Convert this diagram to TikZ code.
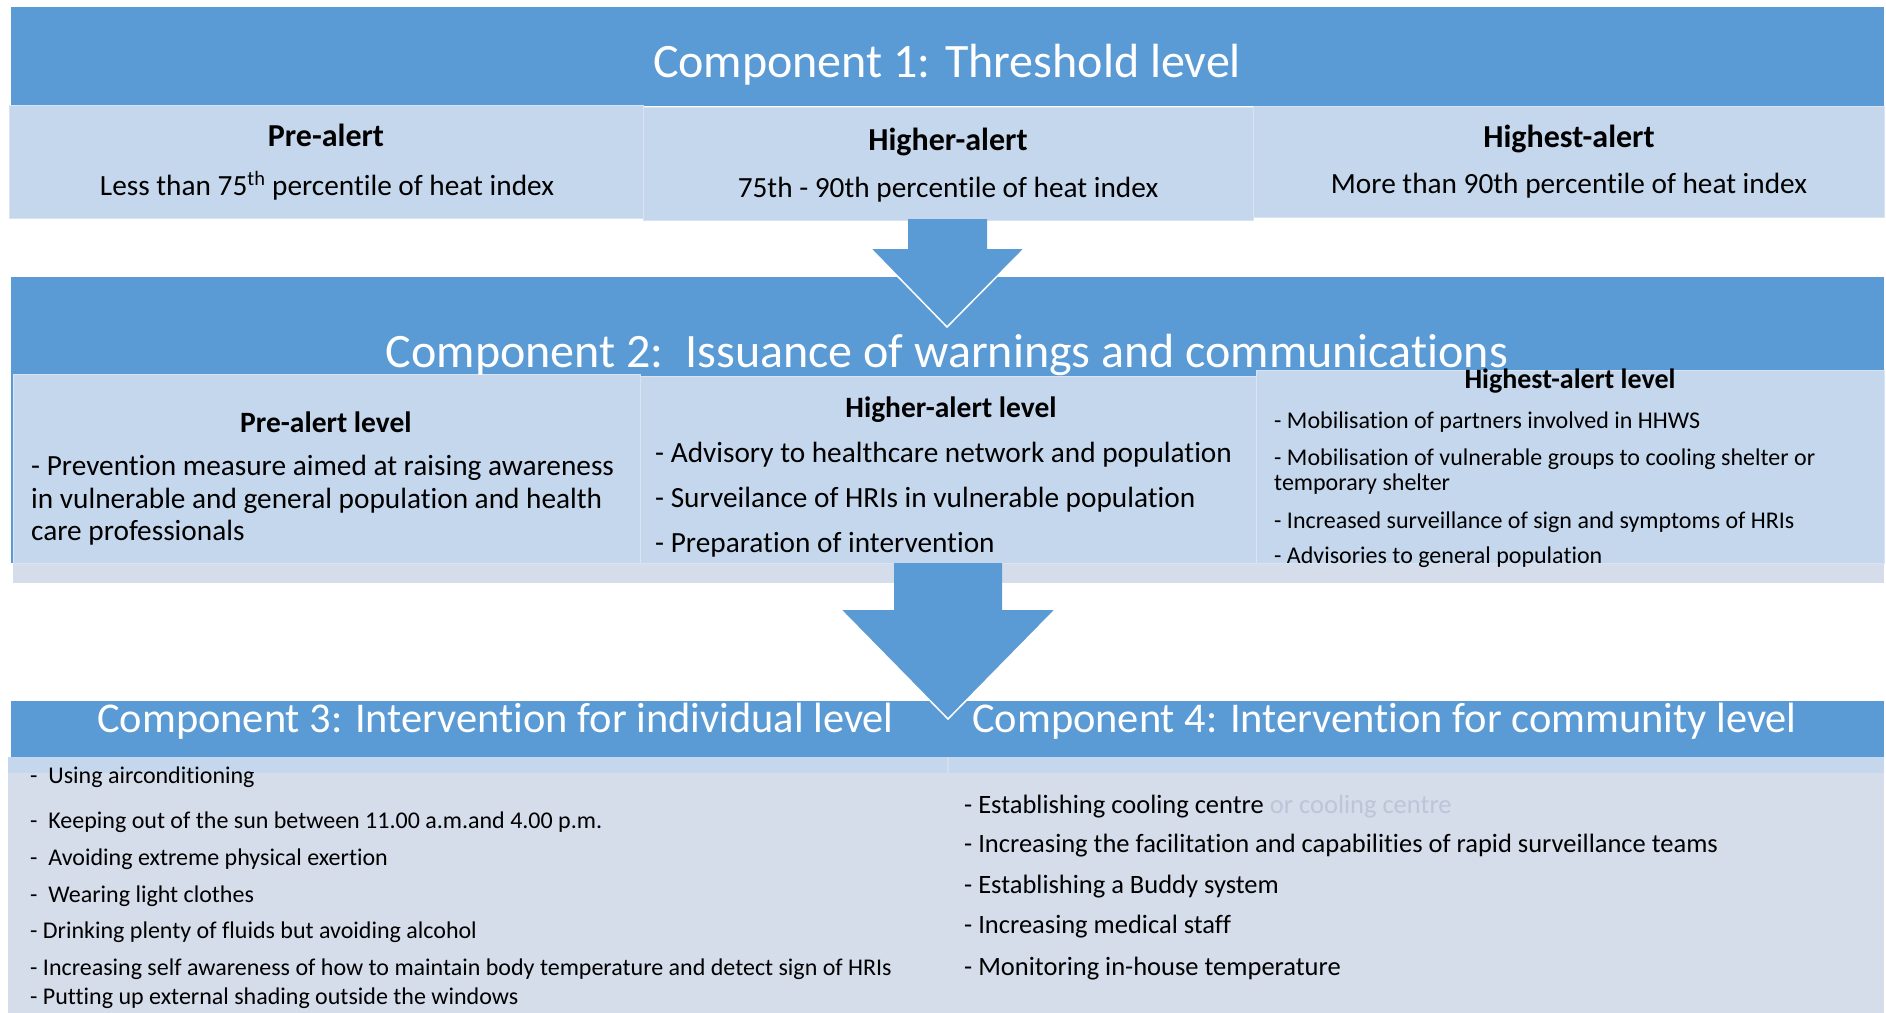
\documentclass[tikz,border=0pt]{standalone}
\usepackage{fontspec}
\setmainfont{Carlito}[Ligatures=NoCommon]
\definecolor{bandblue}{HTML}{5B9BD5}
\definecolor{boxblue}{HTML}{C5D7EC}
\definecolor{paleblue}{HTML}{D5DCEA}
\definecolor{edgeblue}{HTML}{DAE3F1}
\definecolor{ghostgrey}{HTML}{BCC6D8}
\newcommand{\pxfont}[2]{\fontsize{#1}{#2}\selectfont}

\begin{document}
\begin{tikzpicture}[x=1pt,y=-1pt,
  band/.style={fill=bandblue},
  box/.style={fill=boxblue,draw=edgeblue,line width=1pt},
  strip/.style={fill=paleblue},
  arrowbody/.style={fill=bandblue},
  arrowedge/.style={draw=white,line width=1.5pt},
  title/.style={anchor=base,inner sep=0pt,text=white,font=\pxfont{48}{56}},
  subtitle/.style={anchor=base west,inner sep=0pt,text=white,font=\pxfont{42.4}{50}},
  head/.style={anchor=base,inner sep=0pt,font=\bfseries\pxfont{32}{38}},
  headlevel/.style={anchor=base,inner sep=0pt,font=\bfseries\pxfont{29.5}{34}},
  thresh/.style={anchor=base,inner sep=0pt,font=\pxfont{29.3}{34}},
  itemtext/.style={anchor=base west,inner sep=0pt,font=\pxfont{29.3}{34}},
  smallitem/.style={anchor=base west,inner sep=0pt,font=\pxfont{24}{28}},
  commitem/.style={anchor=base west,inner sep=0pt,font=\pxfont{26.5}{31}}]
  \useasboundingbox (0,0) rectangle (1886,1012);
  \clip (0,0) rectangle (1886,1012);

  % component 1
  \fill[band] (11,7) rectangle (1884,106);
  \draw[box] (9,105) rectangle (643,218);
  \draw[box] (643,107) rectangle (1253,220);
  \draw[box] (1253,106) rectangle (1884,217);

  % component 2
  \fill[band] (11,277) rectangle (1884,563);
  \fill[strip] (13,556) rectangle (1884,583);
  \draw[box] (13,374) rectangle (640,563);
  \draw[box] (640,376) rectangle (1256,563);
  \draw[box] (1256,370) rectangle (1884,563);

  % components 3 and 4
  \fill[band] (11,701) rectangle (948,757);
  \fill[band] (948,701) rectangle (1884,757);
  \fill[strip] (8,757) rectangle (948,1015);
  \fill[strip] (948,757) rectangle (1884,1015);
  \fill[boxblue] (8,757) rectangle (947,773);
  \fill[boxblue] (949,757) rectangle (1884,773);

  % arrows
  \coordinate (tip1) at (947,327);
  \coordinate (tip2) at (948,719);
  \fill[arrowbody] (908,219) -- (908,249) -- (871,249) -- (tip1) -- (1024,249) -- (987,249) -- (987,219) -- cycle;
  \draw[arrowedge] (871,249) -- (tip1) -- (1024,249);
  \fill[arrowbody] (894,563) -- (894,610) -- (841,610) -- (tip2) -- (1055,610) -- (1002,610) -- (1002,563) -- cycle;
  \draw[arrowedge] (841,610) -- (tip2) -- (1055,610);

  % texts, component 1
  \node[title] (comp1) at (947,77) {Component 1: Threshold level};
  \node[head] (pre) at (326,146) {Pre-alert};
  \node[thresh] (preval) at (327,195) {Less than 75\textsuperscript{th} percentile of heat index};
  \node[head] (higher) at (948,150) {Higher-alert};
  \node[thresh] (higherval) at (948,197) {75th - 90th percentile of heat index};
  \node[head] (highest) at (1569,147) {Highest-alert};
  \node[thresh] (highestval) at (1569,193) {More than 90th percentile of heat index};

  % texts, component 2
  \node[title] (comp2) at (947,367) {Component 2:\ \ Issuance of warnings and communications};
  \node[headlevel] (prelevel) at (326,432) {Pre-alert level};
  \node[itemtext] (pre1) at (31,475) {- Prevention measure aimed at raising awareness};
  \node[itemtext] (pre2) at (31,508) {in vulnerable and general population and health};
  \node[itemtext] (pre3) at (31,540) {care professionals};
  \node[headlevel] (higherlevel) at (951,417) {Higher-alert level};
  \foreach \yy/\txt [count=\i] in {462/{- Advisory to healthcare network and population},
      507/{- Surveilance of HRIs in vulnerable population},
      552/{- Preparation of intervention}}
    \node[itemtext] (higher\i) at (655,\yy) {\txt};
  \node[headlevel,font=\bfseries\pxfont{28}{32}] (highestlevel) at (1570,388) {Highest-alert level};
  \foreach \yy/\txt [count=\i] in {428/{- Mobilisation of partners involved in HHWS},
      465/{- Mobilisation of vulnerable groups to cooling shelter or},
      490/{temporary shelter},
      528/{- Increased surveillance of sign and symptoms of HRIs},
      563/{- Advisories to general population}}
    \node[smallitem] (highest\i) at (1274,\yy) {\txt};

  % texts, components 3 and 4
  \node[subtitle] (comp3) at (97,732) {Component 3: Intervention for individual level};
  \node[subtitle] (comp4) at (972,732) {Component 4: Intervention for community level};
  \foreach \yy/\txt [count=\i] in {783/{-\ \ Using airconditioning},
      828/{-\ \ Keeping out of the sun between 11.00 a.m.and 4.00 p.m.},
      865/{-\ \ Avoiding extreme physical exertion},
      902/{-\ \ Wearing light clothes},
      938/{- Drinking plenty of fluids but avoiding alcohol},
      975/{- Increasing self awareness of how to maintain body temperature and detect sign of HRIs},
      1004/{- Putting up external shading outside the windows}}
    \node[smallitem] (indiv\i) at (30,\yy) {\txt};
  \foreach \yy/\txt [count=\i] in {813/{- Establishing cooling centre {\color{ghostgrey}or cooling centre}},
      852/{- Increasing the facilitation and capabilities of rapid surveillance teams},
      893/{- Establishing a Buddy system},
      933/{- Increasing medical staff},
      975/{- Monitoring in-house temperature}}
    \node[commitem] (comm\i) at (964,\yy) {\txt};
\end{tikzpicture}
\end{document}
